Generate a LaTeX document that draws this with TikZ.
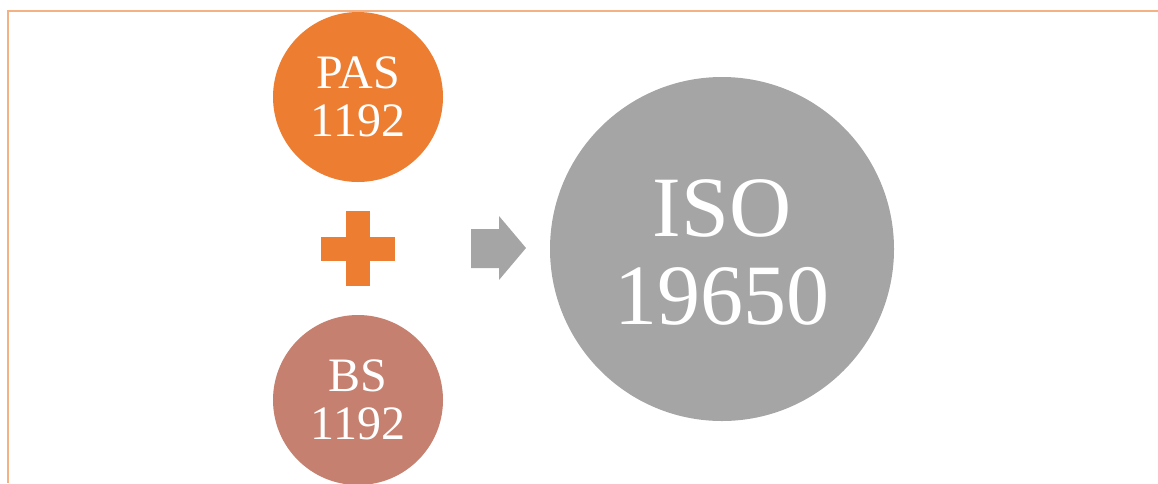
\documentclass[tikz,border=0pt]{standalone}
\usepackage{fontspec}
\setmainfont{Liberation Serif}
\definecolor{accentorange}{HTML}{ED7D31}
\definecolor{clay}{HTML}{C5806F}
\definecolor{stone}{HTML}{A5A5A5}
\definecolor{framepeach}{HTML}{F4B183}
\begin{document}
\begin{tikzpicture}[x=1pt,y=-1pt,
  disc/.style={circle,inner sep=0pt,minimum size=#1,text=white,align=center},
  smalltext/.style={font=\fontsize{48}{48}\selectfont},
  bigtext/.style={font=\fontsize{86}{88}\selectfont}]
  \useasboundingbox (0,0) rectangle (1158,483);
  % slide frame: only the top and left edges are in view
  \draw[framepeach,line width=2.5pt] (8,483) -- (8,11) -- (1158,11);
  % the two source standards
  \node[disc=170pt,fill=accentorange,smalltext] (pas) at (358,97) {PAS\\1192};
  \node[disc=170pt,fill=clay,smalltext] (bs) at (358,400) {BS\\1192};
  % plus sign between them
  \fill[accentorange] (346,211) rectangle (370,286);
  \fill[accentorange] (321,237) rectangle (395,261);
  % block arrow towards the result
  \fill[stone] (471,229) -- (499,229) -- (499,216) -- (526,248) -- (499,280) -- (499,268) -- (471,268) -- cycle;
  % resulting standard
  \node[disc=344pt,fill=stone] (iso) at (722,249) {};
  \node[bigtext,text=white,align=center,inner sep=0pt] (isolabel) at ([yshift=-3pt]iso.center) {ISO\\19650};
\end{tikzpicture}
\end{document}
